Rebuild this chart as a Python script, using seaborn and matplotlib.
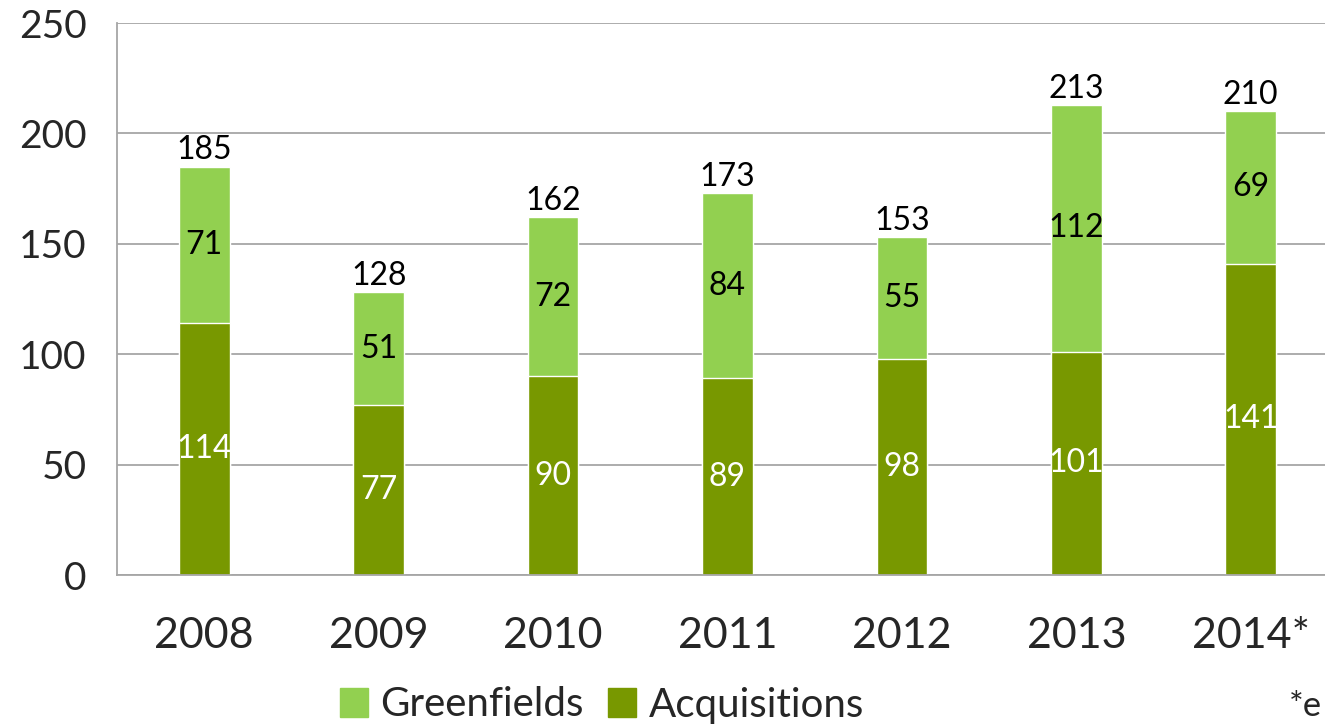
import matplotlib
matplotlib.use("Agg")
import matplotlib.pyplot as plt
import seaborn as sns
import pandas as pd
from matplotlib.patches import Patch

years = ["2008", "2009", "2010", "2011", "2012", "2013", "2014*"]
acquisitions = [114, 77, 90, 89, 98, 101, 141]
greenfields = [71, 51, 72, 84, 55, 112, 69]
totals = [a + g for a, g in zip(acquisitions, greenfields)]

light = "#92D050"
dark = "#789800"

sns.set_theme(style="white")
plt.rcParams["font.family"] = ["Lato", "DejaVu Sans"]

df = pd.DataFrame({"year": years, "acq": acquisitions, "green": greenfields, "total": totals})

fig = plt.figure(figsize=(13.25, 7.28), dpi=100)
ax = fig.add_axes([117 / 1325, 1 - 575 / 728, (1338 - 117) / 1325, (575 - 23) / 728])

# totals drawn first in light green, acquisitions over them
sns.barplot(data=df, x="year", y="total", color=light, width=0.29, saturation=1, ax=ax)
sns.barplot(data=df, x="year", y="acq", color=dark, width=0.29, saturation=1, ax=ax)

for i in range(len(years)):
    ax.text(i, acquisitions[i] / 2, str(acquisitions[i]), ha="center", va="center",
            color="white", fontsize=23)
    ax.text(i, acquisitions[i] + greenfields[i] / 2, str(greenfields[i]), ha="center",
            va="center", color="black", fontsize=23)
    ax.text(i, totals[i] + 0.5, str(totals[i]), ha="center", va="bottom",
            color="black", fontsize=23)

ax.set_xlim(-0.5, 6.5)
ax.set_ylim(0, 250)
ax.set_yticks([0, 50, 100, 150, 200, 250])
ax.yaxis.grid(True, color="#a6a6a6", linewidth=1.3)
ax.set_axisbelow(True)
ax.set_xlabel("")
ax.set_ylabel("")
for s in ["top", "right"]:
    ax.spines[s].set_visible(False)
for s in ["left", "bottom"]:
    ax.spines[s].set_color("#a6a6a6")
    ax.spines[s].set_linewidth(1.3)
ax.tick_params(axis="y", length=12, width=1.3, color="#a6a6a6", labelsize=28, pad=10)
ax.tick_params(axis="x", length=0, labelsize=31, pad=30)

handles = [Patch(color=light, label="Greenfields"), Patch(color=dark, label="Acquisitions")]
fig.legend(handles=handles, loc="center", bbox_to_anchor=(602 / 1325, 1 - 705 / 728),
           ncol=2, frameon=False, fontsize=29, handlelength=0.7, handleheight=0.7,
           handletextpad=0.3, columnspacing=0.6, borderaxespad=0)

fig.text(1322 / 1325, 1 - 706 / 728, "*e", fontsize=25, va="center", ha="right")

fig.savefig("out.png", dpi=100)
